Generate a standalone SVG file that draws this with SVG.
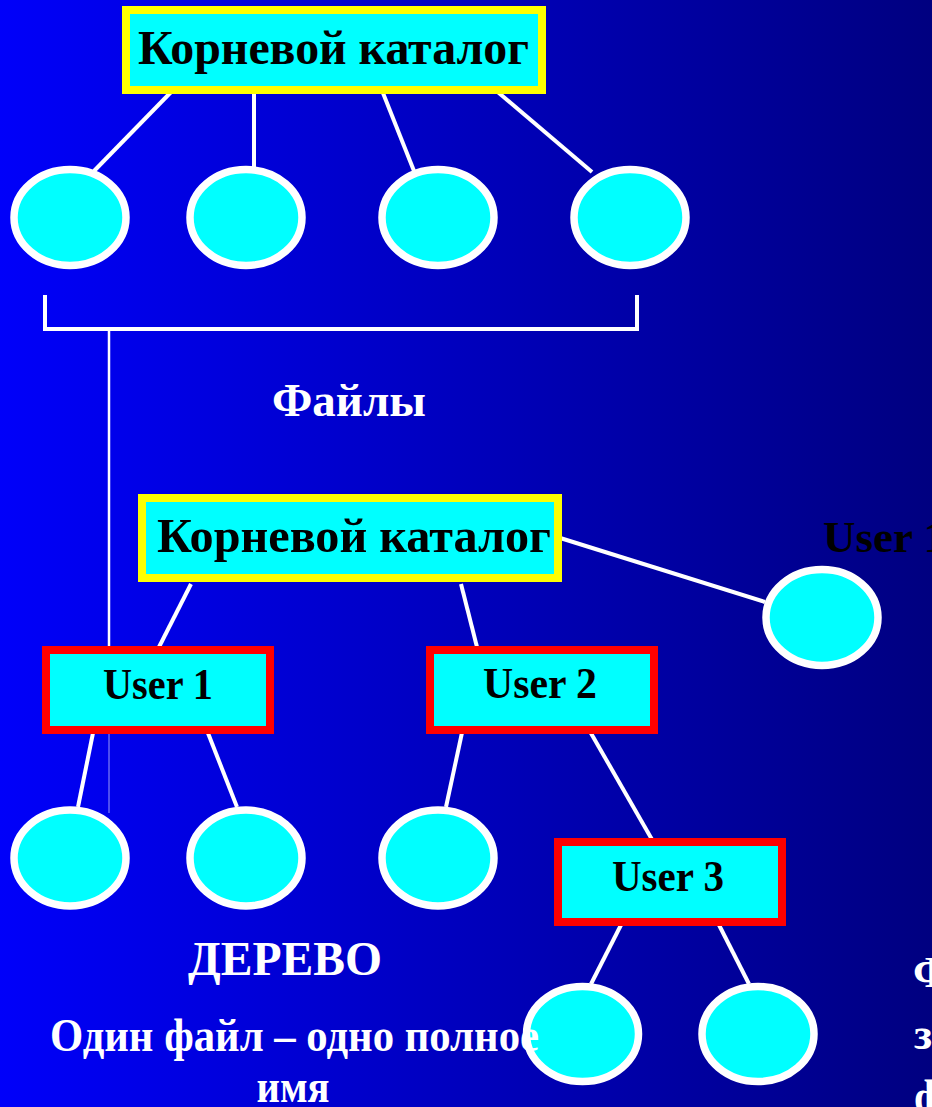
<svg xmlns="http://www.w3.org/2000/svg" width="932" height="1107" viewBox="0 0 932 1107">
  <defs>
    <linearGradient id="bg" x1="0" y1="0" x2="1" y2="0">
      <stop offset="0" stop-color="#0000FA"/>
      <stop offset="1" stop-color="#000080"/>
    </linearGradient>
    <style>
      .root { fill: #00FFFF; stroke: #FFFF00; stroke-width: 8; }
      .user { fill: #00FFFF; stroke: #FF0000; stroke-width: 8; }
      .file { fill: #00FFFF; stroke: #FFFFFF; stroke-width: 7.5; }
      .edge { stroke: #FFFFFF; stroke-width: 4; fill: none; }
      .lbl  { font-family: "Liberation Serif", "Times New Roman", serif; font-weight: bold; fill: #000000; text-anchor: middle; }
      .note { font-family: "Liberation Serif", "Times New Roman", serif; font-weight: bold; fill: #FFFFFF; }
    </style>
  </defs>

  <rect x="0" y="0" width="932" height="1107" fill="url(#bg)"/>

  <!-- connectors -->
  <g id="connectors">
    <!-- first tree: root to files -->
    <line class="edge" x1="175" y1="88" x2="94" y2="171"/>
    <line class="edge" x1="254" y1="88" x2="254" y2="167"/>
    <line class="edge" x1="381" y1="88" x2="414" y2="171"/>
    <line class="edge" x1="493" y1="88" x2="592" y2="172"/>
    <!-- brace under the files -->
    <polyline class="edge" points="45,295 45,329 637,329 637,295"/>
    <line x1="109" y1="331" x2="109" y2="648" stroke="#FFFFFF" stroke-width="2.5"/>
    <line x1="109" y1="732" x2="109" y2="813" stroke="#FFFFFF" stroke-opacity="0.6" stroke-width="1"/>
    <!-- second tree -->
    <line class="edge" x1="557" y1="537" x2="765" y2="602"/>
    <line class="edge" x1="191" y1="584" x2="157" y2="651"/>
    <line class="edge" x1="461" y1="584" x2="478" y2="651"/>
    <line class="edge" x1="94" y1="728" x2="78" y2="807"/>
    <line class="edge" x1="206" y1="728" x2="237" y2="807"/>
    <line class="edge" x1="463" y1="728" x2="446" y2="807"/>
    <line class="edge" x1="588" y1="728" x2="654" y2="843"/>
    <line class="edge" x1="623" y1="921" x2="591" y2="984"/>
    <line class="edge" x1="717" y1="921" x2="749" y2="984"/>
  </g>

  <!-- first tree nodes -->
  <g id="root-a">
    <rect class="root" x="126" y="10" width="416" height="80"/>
    <text class="lbl" x="333.5" y="64" font-size="48" textLength="391" lengthAdjust="spacingAndGlyphs">Корневой каталог</text>
  </g>
  <g id="file-a1"><ellipse class="file" cx="70" cy="217.5" rx="56" ry="48"/></g>
  <g id="file-a2"><ellipse class="file" cx="246" cy="217.5" rx="56" ry="48"/></g>
  <g id="file-a3"><ellipse class="file" cx="438" cy="217.5" rx="56" ry="48"/></g>
  <g id="file-a4"><ellipse class="file" cx="630" cy="217.5" rx="56" ry="48"/></g>

  <!-- second tree nodes -->
  <g id="root-b">
    <rect class="root" x="142" y="498" width="416" height="80"/>
    <text class="lbl" x="354" y="552" font-size="48" textLength="394" lengthAdjust="spacingAndGlyphs">Корневой каталог</text>
  </g>
  <g id="file-b-right"><ellipse class="file" cx="822" cy="617.5" rx="56" ry="48"/></g>
  <g id="user1">
    <rect class="user" x="46" y="650" width="224" height="80"/>
    <text class="lbl" x="158" y="699" font-size="45" textLength="110" lengthAdjust="spacingAndGlyphs">User 1</text>
  </g>
  <g id="user2">
    <rect class="user" x="430" y="650" width="224" height="80"/>
    <text class="lbl" x="540" y="698" font-size="45" textLength="114" lengthAdjust="spacingAndGlyphs">User 2</text>
  </g>
  <g id="user3">
    <rect class="user" x="558" y="842" width="224" height="80"/>
    <text class="lbl" x="668" y="891" font-size="45" textLength="112" lengthAdjust="spacingAndGlyphs">User 3</text>
  </g>
  <g id="file-u1a"><ellipse class="file" cx="70" cy="858" rx="56" ry="48"/></g>
  <g id="file-u1b"><ellipse class="file" cx="246" cy="858" rx="56" ry="48"/></g>
  <g id="file-u2a"><ellipse class="file" cx="438" cy="858" rx="56" ry="48"/></g>
  <g id="file-u3a"><ellipse class="file" cx="582.5" cy="1034" rx="56" ry="47.5"/></g>
  <g id="file-u3b"><ellipse class="file" cx="758" cy="1034" rx="56" ry="47.5"/></g>

  <!-- captions -->
  <g id="captions">
    <text class="note" x="349" y="416" font-size="46" text-anchor="middle" textLength="154" lengthAdjust="spacingAndGlyphs">Файлы</text>
    <text x="823" y="552" font-family="Liberation Serif, serif" font-weight="bold" font-size="45" fill="#000000">User 1</text>
    <text class="note" x="285" y="975" font-size="48" text-anchor="middle" textLength="194" lengthAdjust="spacingAndGlyphs">ДЕРЕВО</text>
    <text class="note" x="50" y="1051" font-size="46" textLength="489" lengthAdjust="spacingAndGlyphs">Один файл – одно полное</text>
    <text class="note" x="293" y="1102" font-size="46" text-anchor="middle" textLength="73" lengthAdjust="spacingAndGlyphs">имя</text>
    <text class="note" x="913" y="987" font-size="45">Ф</text>
    <text class="note" x="914" y="1049" font-size="45">з</text>
    <text class="note" x="914" y="1111" font-size="45">ф</text>
  </g>
</svg>
